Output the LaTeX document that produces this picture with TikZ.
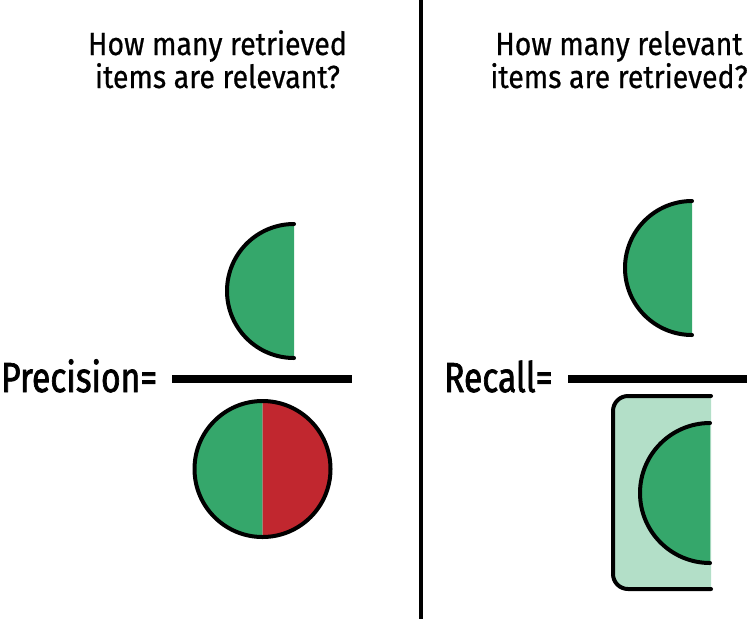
\documentclass[tikz,border=0pt]{standalone}
\usepackage{fontspec}
\setmainfont{Fira Sans}
\newfontfamily\askfont[FakeStretch=0.89, FakeBold=0.6]{Fira Sans}
\newfontfamily\ratiofont[FakeStretch=0.8, FakeBold=1.6]{Fira Sans}
\definecolor{relgreen}{HTML}{35A76B}
\definecolor{irrred}{HTML}{C1272F}
\definecolor{palegreen}{HTML}{B3DFC8}

\begin{document}
\begin{tikzpicture}[x=1pt, y=-1pt, question/.style = {align=center, font=\askfont\fontsize{32}{33}\selectfont, inner sep=0pt, anchor=base}, ratio/.style = {font=\ratiofont\fontsize{42}{44}\selectfont, inner sep=0pt, anchor=base west}, bar/.style = {line width=8pt}, rim/.style = {draw, line width=4pt, line cap=round}]
	\useasboundingbox (0,0) rectangle (751,619);
	% divider
	\draw[line width=4.5pt] (421,0) -- (421,619);
	
	\node[question] (askprec) at (217.5,88) {How many retrieved\\items are relevant?};
	\node[question] (askrec) at (619,88) {How many relevant\\items are retrieved?};
	\node[ratio] (prec) at (1,392) {Precision=};
	\node[ratio] (rec) at (444,392) {Recall=};
	
	\draw[bar] (172,379) -- (352,379);
	\draw[bar] (568,379) -- (747,379);
	
	% precision: numerator and denominator
	\fill[relgreen] (294,224) arc[start angle=-90, end angle=-270, radius=67] -- cycle;
	\draw[rim] (294,224) arc[start angle=-90, end angle=-270, radius=67];
	\fill[relgreen] (262.5,401) arc[start angle=-90, end angle=-270, radius=68] -- cycle;
	\fill[irrred] (262.5,401) arc[start angle=-90, end angle=90, radius=68] -- cycle;
	\draw[rim] (262.5,469) circle[radius=68];
	
	% recall: numerator and denominator
	\fill[relgreen] (692,201) arc[start angle=-90, end angle=-270, radius=67] -- cycle;
	\draw[rim] (692,201) arc[start angle=-90, end angle=-270, radius=67];
	\fill[palegreen, rounded corners=15] (711,396) -| (613,589) -- (711,589);
	\draw[rim, rounded corners=15] (711,396) -| (613,589) -- (711,589);
	\fill[relgreen] (710,423) arc[start angle=-90, end angle=-270, radius=70] -- cycle;
	\draw[rim] (710,423) arc[start angle=-90, end angle=-270, radius=70];
\end{tikzpicture}
\end{document}
